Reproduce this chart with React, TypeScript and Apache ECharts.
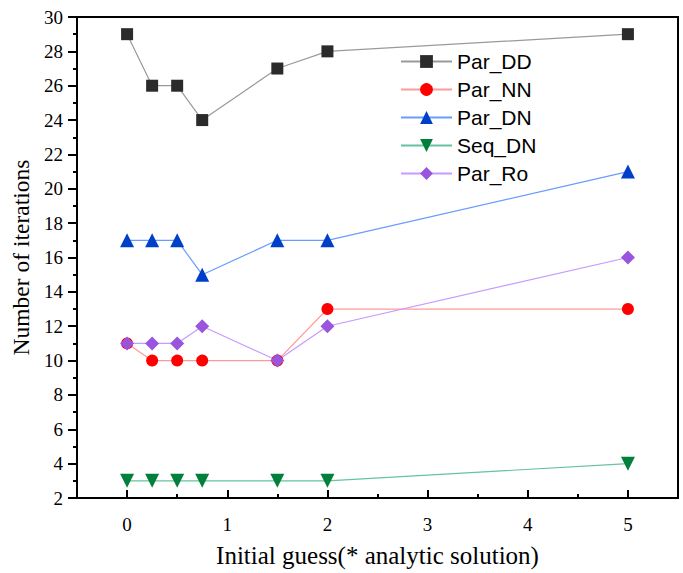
import React, { useEffect, useRef } from "react";
import * as echarts from "echarts";

const xValues = [0, 0.25, 0.5, 0.75, 1.5, 2, 5];
const parDD = [29, 26, 26, 24, 27, 28, 29];
const parNN = [11, 10, 10, 10, 10, 13, 13];
const parDN = [17, 17, 17, 15, 17, 17, 21];
const seqDN = [3, 3, 3, 3, 3, 3, 4];
const parRo = [11, 11, 11, 12, 10, 12, 16];
const xMajorTicks = [0, 1, 2, 3, 4, 5];
const xMinorTicks = [0.5, 1.5, 2.5, 3.5, 4.5];

const serif = "Liberation Serif";

export default function App() {
  const ref = useRef<HTMLDivElement>(null);
  useEffect(() => {
    const chart = echarts.init(ref.current!, undefined, { renderer: "svg" });
    const mk = (vals: number[]) => xValues.map((x, i) => [x, vals[i]]);
    const series: any[] = [
      { name: "Par_DD", data: mk(parDD), symbol: "rect", symbolSize: 12, itemColor: "#2b2b2b", lineColor: "#9a9a9a" },
      { name: "Par_NN", data: mk(parNN), symbol: "circle", symbolSize: 12, itemColor: "#ff0000", lineColor: "#ff9a9a" },
      { name: "Par_DN", data: mk(parDN), symbol: "triangle", symbolSize: 14, itemColor: "#0040c8", lineColor: "#6a9cff" },
      { name: "Seq_DN", data: mk(seqDN), symbol: "triangle", symbolSize: 14, symbolRotate: 180, itemColor: "#00803a", lineColor: "#66c2a0" },
      { name: "Par_Ro", data: mk(parRo), symbol: "diamond", symbolSize: 14, itemColor: "#9955dd", lineColor: "#c899ff" },
    ].map((s) => ({
      type: "line",
      name: s.name,
      data: s.data,
      symbol: s.symbol,
      symbolSize: s.symbolSize,
      symbolRotate: s.symbolRotate || 0,
      xAxisIndex: 0,
      yAxisIndex: 0,
      itemStyle: { color: s.itemColor },
      lineStyle: { color: s.lineColor, width: 1.2 },
      z: 5,
    }));

    chart.setOption({
      animation: false,
      backgroundColor: "#ffffff",
      grid: { left: 77, right: 5, top: 17, bottom: 74 },
      legend: {
        left: 400,
        top: 51,
        padding: 0,
        orient: "vertical",
        itemWidth: 51,
        itemHeight: 16,
        itemGap: 7,
        textStyle: { fontFamily: "Liberation Sans", fontSize: 21, color: "#000" },
        data: series.map((s) => s.name),
      },
      xAxis: [
        {
          type: "value",
          min: -0.5,
          max: 5.5,
          position: "bottom",
          name: "Initial guess(* analytic solution)",
          nameLocation: "middle",
          nameGap: 45,
          nameTextStyle: { fontFamily: serif, fontSize: 25, color: "#000" },
          axisLine: { show: true, onZero: false, lineStyle: { color: "#000", width: 2 } },
          axisTick: { show: true, inside: true, length: 8, customValues: xMajorTicks, lineStyle: { color: "#000", width: 2 } },
          axisLabel: { customValues: xMajorTicks, margin: 17, fontFamily: serif, fontSize: 19, color: "#000" },
          splitLine: { show: false },
        },
        {
          type: "value",
          min: -0.5,
          max: 5.5,
          position: "bottom",
          axisLine: { show: false, onZero: false },
          axisTick: { show: true, inside: true, length: 4, customValues: xMinorTicks, lineStyle: { color: "#000", width: 2 } },
          axisLabel: { show: false },
          splitLine: { show: false },
        },
        {
          type: "value",
          min: -0.5,
          max: 5.5,
          position: "top",
          axisLine: { show: true, onZero: false, lineStyle: { color: "#000", width: 2 } },
          axisTick: { show: false },
          axisLabel: { show: false },
          splitLine: { show: false },
        },
      ],
      yAxis: [
        {
          type: "value",
          min: 2,
          max: 30,
          interval: 2,
          position: "left",
          name: "Number of iterations",
          nameLocation: "middle",
          nameGap: 43,
          nameTextStyle: { fontFamily: serif, fontSize: 23.5, color: "#000" },
          axisLine: { show: true, onZero: false, lineStyle: { color: "#000", width: 2 } },
          axisTick: { show: true, inside: false, length: 9, lineStyle: { color: "#000", width: 2 } },
          minorTick: { show: true, splitNumber: 2, length: 4, lineStyle: { color: "#000", width: 2 } },
          axisLabel: { margin: 14, fontFamily: serif, fontSize: 19, color: "#000" },
          splitLine: { show: false },
        },
        {
          type: "value",
          min: 2,
          max: 30,
          interval: 2,
          position: "right",
          axisLine: { show: true, onZero: false, lineStyle: { color: "#000", width: 2 } },
          axisTick: { show: false },
          axisLabel: { show: false },
          splitLine: { show: false },
        },
      ],
      series,
    });
    return () => chart.dispose();
  }, []);
  return <div ref={ref} style={{ width: 683, height: 573, position: "absolute", left: 0, top: 0 }} />;
}
